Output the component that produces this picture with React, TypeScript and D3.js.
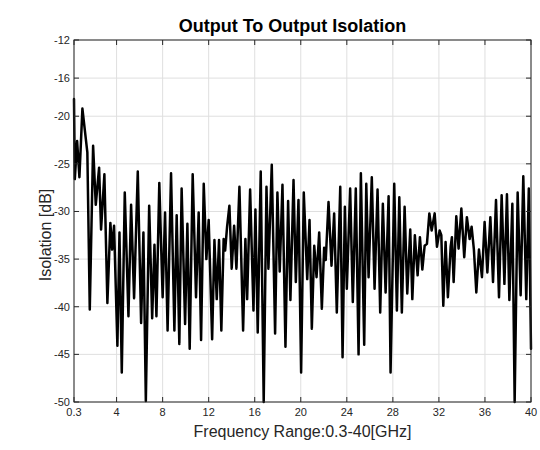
import React from "react";
import * as d3 from "d3";

const freqGHz: number[] = [
  0.3, 0.37, 0.57, 0.77, 1.03, 1.46, 1.67, 1.96, 2.19, 2.48, 2.65, 2.94, 3.2, 3.46, 3.61, 3.78,
  4.07, 4.25, 4.45, 4.71, 5.03, 5.26, 5.52, 5.84, 6.13, 6.33, 6.54, 6.83, 7.09, 7.29, 7.46, 7.71,
  8.0, 8.21, 8.43, 8.73, 9.02, 9.22, 9.45, 9.65, 9.95, 10.15, 10.35, 10.61, 10.9, 11.13, 11.34, 11.57,
  11.8, 12.0, 12.3, 12.5, 12.7, 12.9, 13.1, 13.3, 13.43, 13.6, 13.8, 14.0, 14.21, 14.41, 14.67, 14.99,
  15.19, 15.34, 15.6, 15.89, 16.06, 16.26, 16.52, 16.78, 17.02, 17.19, 17.48, 17.77, 17.97, 18.17, 18.41, 18.67,
  18.9, 19.1, 19.37, 19.57, 19.8, 20.03, 20.26, 20.56, 20.76, 20.96, 21.17, 21.37, 21.6, 21.83, 22.03, 22.17,
  22.41, 22.67, 22.9, 23.13, 23.43, 23.63, 23.83, 24.0, 24.29, 24.52, 24.78, 25.02, 25.22, 25.51, 25.69, 25.89,
  26.17, 26.41, 26.67, 26.9, 27.13, 27.37, 27.63, 27.8, 28.12, 28.35, 28.56, 28.78, 29.02, 29.25, 29.51, 29.69,
  29.91, 30.15, 30.35, 30.56, 30.76, 30.96, 31.17, 31.37, 31.63, 31.83, 32.06, 32.21, 32.38, 32.58, 32.78, 33.02,
  33.13, 33.28, 33.51, 33.71, 33.95, 34.2, 34.43, 34.67, 34.84, 35.04, 35.25, 35.48, 35.74, 35.97, 36.21, 36.47,
  36.7, 36.96, 37.22, 37.45, 37.69, 37.91, 38.12, 38.38, 38.58, 38.84, 39.1, 39.33, 39.59, 39.81, 40.0,
];

const isolationDb: number[] = [
  -18.2, -26.6, -22.6, -26.4, -19.2, -23.8, -40.3, -23.1, -29.3, -25.4, -31.9, -26.1, -39.6, -31.2, -34.0, -31.5,
  -44.1, -32.2, -46.9, -28.0, -41.0, -29.3, -39.1, -25.8, -41.7, -32.2, -49.9, -29.4, -41.2, -33.5, -41.0, -27.0,
  -39.0, -30.1, -42.5, -26.0, -42.5, -30.4, -43.9, -27.6, -41.8, -31.3, -44.4, -26.1, -39.0, -30.1, -43.5, -27.1,
  -35.0, -30.9, -43.4, -33.0, -39.2, -33.0, -42.5, -32.9, -34.1, -31.6, -29.4, -36.0, -31.5, -36.0, -27.4, -42.5,
  -32.9, -39.2, -27.7, -40.4, -29.8, -42.7, -25.8, -50.0, -27.4, -36.0, -25.1, -42.8, -28.0, -36.3, -27.2, -44.2,
  -28.9, -39.3, -26.7, -37.4, -28.8, -46.9, -28.0, -37.1, -30.9, -42.3, -33.6, -36.9, -32.2, -40.2, -33.8, -35.1,
  -29.0, -35.7, -30.2, -40.6, -27.4, -45.3, -29.5, -38.1, -27.6, -39.5, -27.6, -45.0, -26.0, -44.0, -27.1, -36.9,
  -26.4, -38.1, -27.7, -40.6, -29.2, -38.5, -28.4, -46.9, -27.1, -40.4, -28.5, -40.6, -29.5, -38.6, -31.9, -39.2,
  -32.5, -36.7, -32.7, -36.1, -33.6, -33.4, -30.2, -32.0, -30.2, -33.7, -32.0, -32.5, -39.9, -33.2, -39.0, -33.7,
  -32.7, -37.4, -30.5, -33.9, -29.7, -34.8, -30.6, -32.9, -31.6, -34.0, -38.5, -34.0, -36.9, -31.1, -36.4, -30.6,
  -37.4, -28.8, -39.0, -28.3, -37.6, -28.2, -39.3, -29.2, -50.0, -28.0, -38.8, -26.3, -39.2, -27.6, -44.4,
];

const xTicks: number[] = [0.3, 4, 8, 12, 16, 20, 24, 28, 32, 36, 40];
const yTicks: number[] = [-12, -16, -20, -25, -30, -35, -40, -45, -50];

const titleText = "Output To Output Isolation";
const xLabelText = "Frequency Range:0.3-40[GHz]";
const yLabelText = "Isolation [dB]";

const W = 540;
const H = 450;
const M = { left: 74, right: 531, top: 40, bottom: 402 };
const FONT = "'Liberation Sans', Arial, Helvetica, sans-serif";
const AXIS = "#262626";
const GRID = "#dfdfdf";

export default function App() {
  const x = d3.scaleLinear().domain([0.3, 40]).range([M.left, M.right]);
  const y = d3.scaleLinear().domain([-12, -50]).range([M.top, M.bottom]);
  const pts: [number, number][] = freqGHz.map((f, i) => [f, isolationDb[i]]);
  const line = d3
    .line<[number, number]>()
    .x((d) => x(d[0]))
    .y((d) => y(d[1]));
  const tickLen = 5;

  return (
    <svg
      width={W}
      height={H}
      style={{ position: "absolute", left: 0, top: 0, background: "#fff" }}
      fontFamily={FONT}
    >
      <rect x={0} y={0} width={W} height={H} fill="#fff" />
      {xTicks.map((t) => (
        <line key={"gx" + t} x1={x(t)} x2={x(t)} y1={M.top} y2={M.bottom} stroke={GRID} strokeWidth={1} />
      ))}
      {yTicks.map((t) => (
        <line key={"gy" + t} x1={M.left} x2={M.right} y1={y(t)} y2={y(t)} stroke={GRID} strokeWidth={1} />
      ))}
      <path
        d={line(pts) || ""}
        fill="none"
        stroke="#000"
        strokeWidth={2.5}
        strokeLinejoin="round"
        strokeLinecap="round"
      />
      <rect
        x={M.left}
        y={M.top}
        width={M.right - M.left}
        height={M.bottom - M.top}
        fill="none"
        stroke={AXIS}
        strokeWidth={1}
      />
      {xTicks.map((t) => (
        <g key={"tx" + t}>
          <line x1={x(t)} x2={x(t)} y1={M.bottom} y2={M.bottom - tickLen} stroke={AXIS} />
          <line x1={x(t)} x2={x(t)} y1={M.top} y2={M.top + tickLen} stroke={AXIS} />
          <text x={x(t)} y={M.bottom + 14} fontSize={11} fill={AXIS} textAnchor="middle">
            {String(t)}
          </text>
        </g>
      ))}
      {yTicks.map((t) => (
        <g key={"ty" + t}>
          <line x1={M.left} x2={M.left + tickLen} y1={y(t)} y2={y(t)} stroke={AXIS} />
          <line x1={M.right} x2={M.right - tickLen} y1={y(t)} y2={y(t)} stroke={AXIS} />
          <text x={M.left - 4} y={y(t) + 4} fontSize={11} fill={AXIS} textAnchor="end">
            {String(t)}
          </text>
        </g>
      ))}
      <text x={(M.left + M.right) / 2 - 10} y={32} fontSize={18} fontWeight="bold" fill="#000" textAnchor="middle">
        {titleText}
      </text>
      <text x={(M.left + M.right) / 2} y={437} fontSize={16} fill={AXIS} textAnchor="middle">
        {xLabelText}
      </text>
      <text
        transform={`translate(51, 235) rotate(-90)`}
        fontSize={16}
        fill={AXIS}
        textAnchor="middle"
      >
        {yLabelText}
      </text>
    </svg>
  );
}
